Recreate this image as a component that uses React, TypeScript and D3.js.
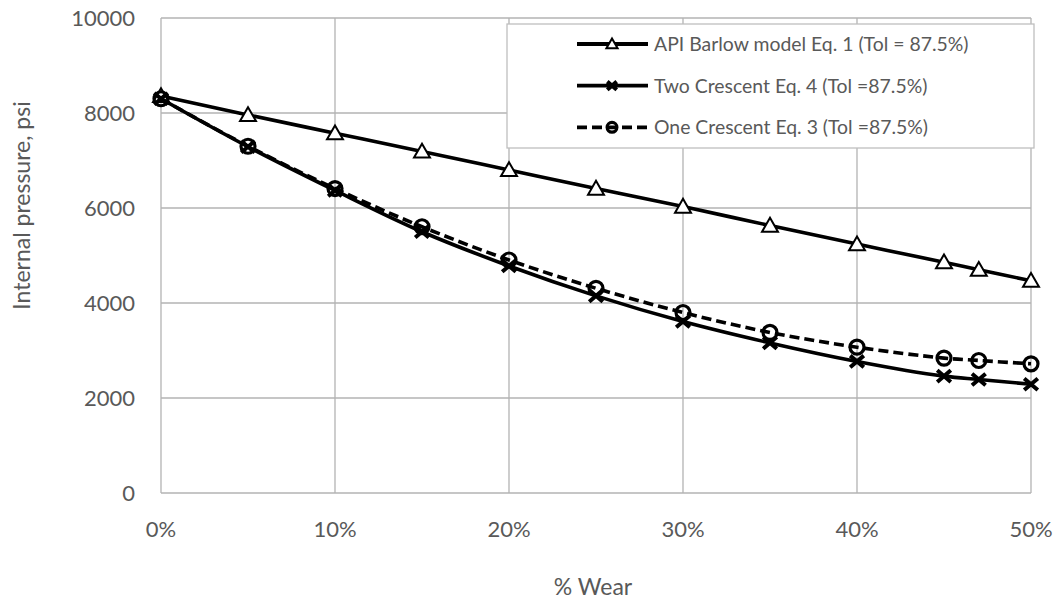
import React from "react";
import * as d3 from "d3";

const wear = [0, 5, 10, 15, 20, 25, 30, 35, 40, 45, 47, 50];
const barlow = [8360, 7960, 7575, 7190, 6800, 6410, 6030, 5630, 5240, 4860, 4700, 4470];
const twoCrescent = [8300, 7290, 6370, 5500, 4780, 4150, 3610, 3160, 2770, 2460, 2390, 2290];
const oneCrescent = [8300, 7300, 6410, 5605, 4905, 4310, 3800, 3380, 3070, 2840, 2790, 2720];
const yTicks = [0, 2000, 4000, 6000, 8000, 10000];
const xTicks = [0, 10, 20, 30, 40, 50];
const seriesNames = [
  "API Barlow model Eq. 1 (Tol = 87.5%)",
  "Two Crescent Eq. 4 (Tol =87.5%)",
  "One Crescent Eq. 3 (Tol =87.5%)",
];

const W = 1057;
const H = 600;
const left = 161, right = 1031, top = 18, bottom = 493;
const FONT = "Lato, 'Open Sans', sans-serif";
const TXT = "#595959";
const GRID = "#b3b3b3";

function Marker({ kind, x, y, s = 1 }: { kind: string; x: number; y: number; s?: number }) {
  if (kind === "tri") {
    const p = d3.symbol().type(d3.symbolTriangle).size(110 * s * s)();
    return <path d={p || ""} transform={`translate(${x},${y + 1.5 * s})`} fill="#fff" stroke="#000" strokeWidth={2} />;
  }
  if (kind === "x") {
    const a = 6.8 * s, b = 5.8 * s;
    return (
      <path d={`M${-a},${-b}L${a},${b}M${-a},${b}L${a},${-b}`} transform={`translate(${x},${y})`} stroke="#000" strokeWidth={4} fill="none" />
    );
  }
  return <circle cx={x} cy={y} r={7 * s} fill="none" stroke="#000" strokeWidth={3.2} />;
}

export default function App() {
  const x = d3.scaleLinear().domain([0, 50]).range([left, right]);
  const y = d3.scaleLinear().domain([0, 10000]).range([bottom, top]);
  const line = d3
    .line<[number, number]>()
    .x((d) => x(d[0]))
    .y((d) => y(d[1]))
    .curve(d3.curveCatmullRom.alpha(0.5));

  const series = [
    { vals: barlow, kind: "tri", dash: undefined as string | undefined },
    { vals: twoCrescent, kind: "x", dash: undefined },
    { vals: oneCrescent, kind: "o", dash: "10,5" },
  ];

  const legendRows = [44, 85.7, 127.3];

  return (
    <svg width={W} height={H} style={{ position: "absolute", left: 0, top: 0, background: "#fff" }} fontFamily={FONT}>
      <rect width={W} height={H} fill="#fff" />
      {/* grid */}
      {yTicks.map((t) => (
        <line key={"gy" + t} x1={left} x2={right} y1={y(t)} y2={y(t)} stroke={GRID} strokeWidth={1.3} />
      ))}
      {xTicks.map((t) => (
        <line key={"gx" + t} x1={x(t)} x2={x(t)} y1={top} y2={bottom} stroke={GRID} strokeWidth={1.3} />
      ))}
      {/* tick labels */}
      {yTicks.map((t) => (
        <text key={"ty" + t} x={135} y={y(t)} dy="0.36em" textAnchor="end" fontSize={22} fill={TXT}>
          {t}
        </text>
      ))}
      {xTicks.map((t) => (
        <text key={"tx" + t} x={x(t)} y={537} textAnchor="middle" fontSize={22} fill={TXT}>
          {t + "%"}
        </text>
      ))}
      {/* axis titles */}
      <text x={593} y={595} textAnchor="middle" fontSize={23} fill={TXT}>
        % Wear
      </text>
      <text transform={`translate(30,${(top + bottom) / 2 - 50}) rotate(-90)`} textAnchor="middle" fontSize={23} fill={TXT}>
        Internal pressure, psi
      </text>
      {/* series */}
      {series.map((s, i) => {
        const pts = wear.map((w, j) => [w, s.vals[j]] as [number, number]);
        return (
          <g key={"s" + i}>
            <path d={line(pts) || ""} fill="none" stroke="#000" strokeWidth={3.6} strokeDasharray={s.dash} />
            {pts.map((p, j) => (
              <Marker key={j} kind={s.kind} x={x(p[0])} y={y(p[1])} />
            ))}
          </g>
        );
      })}
      {/* legend */}
      <rect x={507} y={24} width={527} height={124} fill="#fff" stroke="#bfbfbf" strokeWidth={1.3} />
      {series.map((s, i) => (
        <g key={"l" + i}>
          <line x1={577} x2={648} y1={legendRows[i]} y2={legendRows[i]} stroke="#000" strokeWidth={3.8} strokeDasharray={s.dash ? "10,5" : undefined} />
          <Marker kind={s.kind} x={612} y={legendRows[i]} s={0.7} />
          <text x={654} y={legendRows[i]} dy="0.36em" fontSize={19.4} fill={TXT}>
            {seriesNames[i]}
          </text>
        </g>
      ))}
    </svg>
  );
}
